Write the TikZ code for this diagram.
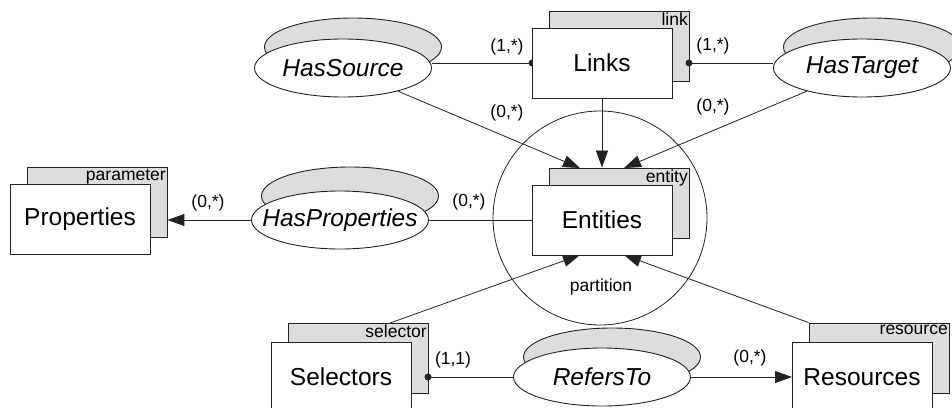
\documentclass[tikz,border=0pt]{standalone}
\usepackage{fontspec}
\setmainfont{Liberation Sans}
\usetikzlibrary{arrows.meta,shapes.geometric,calc}
\definecolor{shade}{HTML}{DDDDDD}
\definecolor{edge}{HTML}{222222}
\begin{document}
\begin{tikzpicture}[x=1pt,y=-1pt,
  frontbox/.style={draw=edge,fill=white,line width=0.9pt,minimum width=140pt,minimum height=70pt,inner sep=0pt,font=\fontsize{24.5}{28}\selectfont},
  backbox/.style={draw=edge,fill=shade,line width=0.9pt,minimum width=140pt,minimum height=70pt,inner sep=0pt},
  tagtext/.style={font=\fontsize{17.5}{20}\selectfont,inner xsep=1.5pt,inner ysep=2pt,anchor=north east},
  frontell/.style={ellipse,draw=edge,fill=white,line width=0.9pt,minimum width=177pt,minimum height=58pt,inner sep=0pt},
  elltext/.style={font=\fontsize{24.5}{28}\selectfont\itshape,inner sep=0pt},
  backell/.style={ellipse,draw=edge,fill=shade,line width=0.9pt,minimum width=177pt,minimum height=58pt,inner sep=0pt},
  card/.style={font=\fontsize{17.5}{20}\selectfont,inner sep=0pt},
  conn/.style={draw=edge,line width=0.8pt},
  arr/.style={conn,-{Triangle[length=17pt,width=12pt]}},
  dotc/.style={circle,fill=edge,inner sep=0pt,minimum size=7pt}
]
\useasboundingbox (0,0) rectangle (952,407);
\clip (0,0) rectangle (952,407);

% partition circle
\node[circle,draw=edge,line width=0.8pt,minimum size=214pt,inner sep=0pt] (part) at (600,218) {};
\node[card] (partlbl) at (601,287) {partition};

% ellipse positions
\coordinate (hsC) at (343,68);
\coordinate (htC) at (862,68);
\coordinate (hpC) at (340,220);
\coordinate (rtC) at (602,377);

% back ellipses
\node[backell] (hsB) at ($(hsC)+(10,-21)$) {};
\node[backell] (htB) at ($(htC)+(10,-21)$) {};
\node[backell] (hpB) at ($(hpC)+(10,-24)$) {};
\node[backell] (rtB) at ($(rtC)+(10,-20)$) {};

% back boxes
\node[backbox] (propB) at (97,202) {};
\node[backbox] (linkB) at (619,46) {};
\node[backbox] (entB) at (619,203) {};
\node[backbox] (selB) at (358,358) {};
\node[backbox] (resB) at (879,358) {};
\node[tagtext] (propT) at (propB.north east) {parameter};
\node[tagtext] (linkT) at (linkB.north east) {link};
\node[tagtext] (entT) at (entB.north east) {entity};
\node[tagtext] (selT) at (selB.north east) {selector};
\node[tagtext] (resT) at (resB.north east) {resource};

% named end points
\coordinate (eIn1) at (580,168);
\coordinate (eIn3) at (624,168);
\coordinate (eOut1) at (580,255);
\coordinate (eOut2) at (624,255);
\coordinate (selOut) at (390,323);

% dots (under the boxes)
\node[dotc] (dotL) at (532,63) {};
\node[dotc] (dotR) at (689,63) {};
\node[dotc] (dotS) at (428,377) {};

% front ellipses
\node[frontell] (HasSource) at (hsC) {};
\node[frontell] (HasTarget) at (htC) {};
\node[frontell] (HasProperties) at (hpC) {};
\node[frontell] (RefersTo) at (rtC) {};
\node[elltext] (hsT) at (hsC) {HasSource};
\node[elltext] (htT) at (htC) {HasTarget};
\node[elltext] (hpT) at (hpC) {HasProperties};
\node[elltext] (rtT) at (rtC) {RefersTo};

% connectors
\draw[conn] (dotL.center) -- (dotL.center -| HasSource.east);
\draw[conn] (dotR.center) -- (dotR.center -| HasTarget.west);
\draw[arr] (HasSource) -- (eIn1);
\draw[arr] (HasTarget) -- (eIn3);
\draw[arr] (HasProperties.west) -- (HasProperties.west -| propB.east);
\draw[conn] (HasProperties.east) -- (HasProperties.east -| 532,0);
\draw[conn] (dotS.center) -- (RefersTo.west);
\draw[arr] (RefersTo.east) -- (RefersTo.east -| 792,0);
\draw[arr] (selOut) -- (eOut1);
\draw[arr] (resB.north west) -- (eOut2);

% front boxes
\node[frontbox] (Properties) at (80,219) {Properties};
\node[frontbox] (Links) at (602,63) {Links};
\node[frontbox] (Entities) at (602,220) {Entities};
\node[frontbox] (Selectors) at (341,377) {Selectors};
\node[frontbox] (Resources) at (862,377) {Resources};

\draw[arr] (Links.south) -- (Links.south |- entB.north);

% cardinalities
\node[card] (c1) at (507,47) {(1,*)};
\node[card] (c2) at (507,113) {(0,*)};
\node[card] (c3) at (713,46) {(1,*)};
\node[card] (c4) at (713,107) {(0,*)};
\node[card] (c5) at (208,203) {(0,*)};
\node[card] (c6) at (469,202) {(0,*)};
\node[card] (c7) at (453,360) {(1,1)};
\node[card] (c8) at (750,358) {(0,*)};
\end{tikzpicture}
\end{document}
